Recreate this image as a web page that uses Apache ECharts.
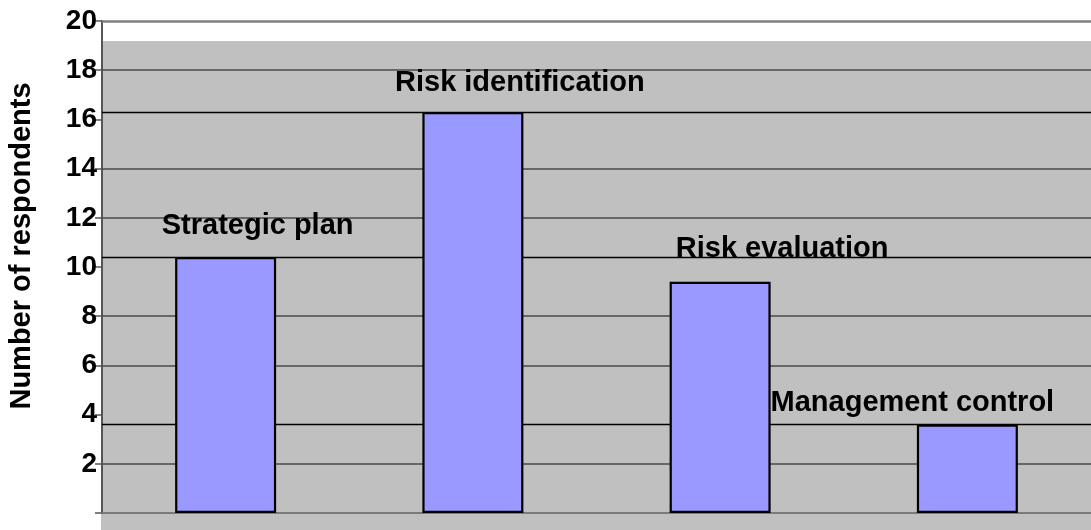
<!DOCTYPE html>
<html>
<head>
<meta charset="utf-8">
<script src="https://cdn.jsdelivr.net/npm/echarts@6/dist/echarts.min.js"></script>
<style>
  html, body { margin: 0; padding: 0; background: #ffffff; }
  #chart { width: 1091px; height: 530px; }
</style>
</head>
<body>
<div id="chart"></div>
<script>
// Survey results: number of respondents per risk-management stage
const categories = ['Strategic plan', 'Risk identification', 'Risk evaluation', 'Management control'];
const respondents = [10.4, 16.3, 9.4, 3.6];
const yTicks = [2, 4, 6, 8, 10, 12, 14, 16, 18, 20];
const gridValues = [2, 6, 8, 12, 14, 18];
// stages whose bar tops carry a full-width reference line
const markedStages = ['Strategic plan', 'Risk identification', 'Management control'];
const axisTitle = 'Number of respondents';

// label placement relative to each bar's top edge
const labelOffsets = [[32, -12], [47, -10], [62, -13], [-55, -2]];

const FONT = 'Arial, "Liberation Sans", sans-serif';
const chart = echarts.init(document.getElementById('chart'), null, { renderer: 'canvas' });

const gridLines = gridValues.map(v => ({ yAxis: v, lineStyle: { color: '#4a4a4a', width: 1.5, type: 'solid' } }));
const topLines = markedStages.map(name => ({
  yAxis: respondents[categories.indexOf(name)],
  lineStyle: { color: '#000000', width: 1.3, type: 'solid' }
}));
const maxTick = yTicks[yTicks.length - 1];

chart.setOption({
  animation: false,
  backgroundColor: '#ffffff',
  graphic: [
    {
      type: 'rect', z: -10, silent: true,
      left: 101, top: 41,
      shape: { width: 990, height: 489 },
      style: { fill: '#c0c0c0' }
    },
    {
      type: 'text', silent: true,
      x: 22, y: 246, rotation: Math.PI / 2,
      style: {
        text: axisTitle, font: 'bold 29px ' + FONT, fill: '#000',
        textAlign: 'center', textVerticalAlign: 'middle'
      }
    }
  ],
  grid: { left: 102, top: 21, width: 990, height: 492, containLabel: false },
  xAxis: {
    type: 'category',
    data: categories,
    axisLine: { show: true, lineStyle: { color: '#7a7a7a', width: 2 } },
    axisTick: { show: false },
    axisLabel: { show: false },
    splitLine: { show: false }
  },
  yAxis: {
    type: 'value',
    min: 0, max: maxTick, interval: 2,
    axisLine: { show: true, onZero: false, lineStyle: { color: '#555555', width: 2 } },
    axisTick: { show: true, length: 7, lineStyle: { color: '#555555', width: 1.5 } },
    axisLabel: {
      margin: 5,
      fontFamily: FONT, fontWeight: 'bold', fontSize: 28, color: '#000',
      formatter: v => (yTicks.indexOf(v) >= 0 ? String(v) : '')
    },
    splitLine: { show: false }
  },
  series: [{
    type: 'bar',
    data: respondents.map((v, i) => ({
      value: v,
      label: { offset: labelOffsets[i] }
    })),
    barWidth: 101,
    itemStyle: { color: '#9999ff', borderColor: '#000000', borderWidth: 2.2 },
    label: {
      show: true, position: 'top', distance: 5,
      formatter: p => categories[p.dataIndex],
      fontFamily: FONT, fontWeight: 'bold', fontSize: 29, color: '#000'
    },
    markLine: {
      silent: true, symbol: 'none', z: 1,
      label: { show: false },
      data: gridLines.concat(topLines).concat([
        { yAxis: maxTick, lineStyle: { color: '#808080', width: 2.5, type: 'solid' } }
      ])
    },
    z: 3
  }]
});
</script>
</body>
</html>
